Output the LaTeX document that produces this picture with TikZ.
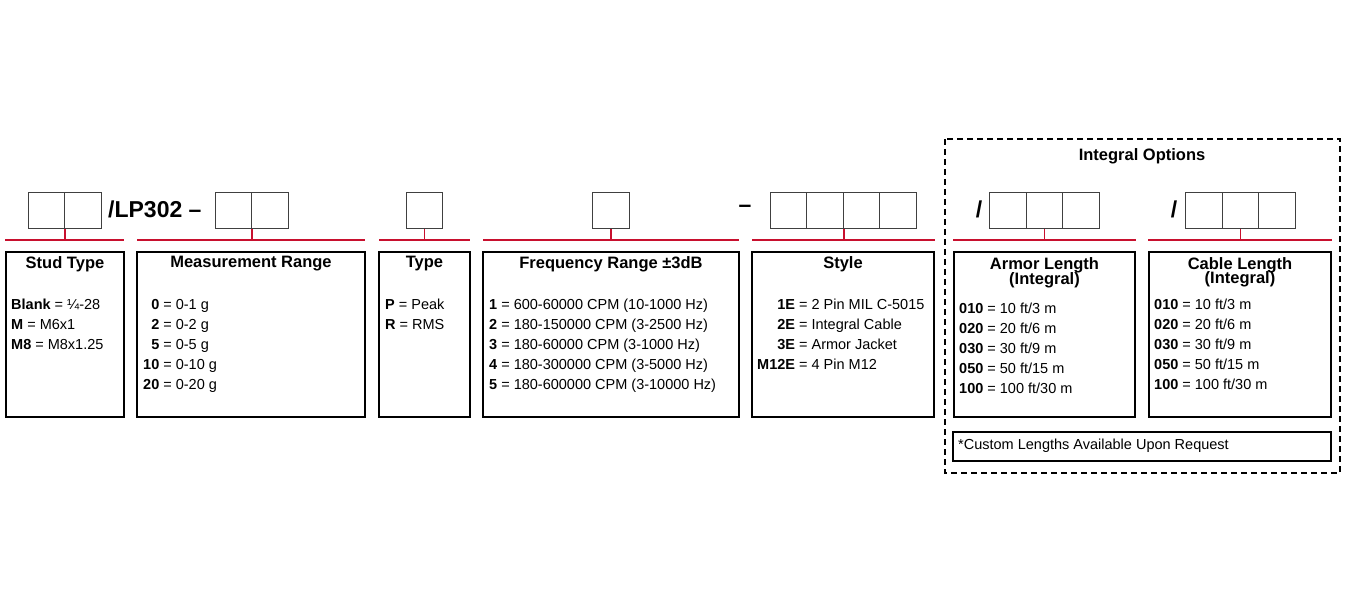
\documentclass[tikz,border=0pt]{standalone}
\usepackage{fontspec}
\setmainfont{Liberation Sans}
\usetikzlibrary{positioning}
\pgfdeclarelayer{edgelayer}
\pgfsetlayers{edgelayer,main}
\definecolor{codered}{RGB}{200,16,46}
\tikzstyle{cell}=[draw=black!75, line width=0.9pt, minimum width=36.5pt, minimum height=36pt, inner sep=0pt]
\tikzstyle{panel}=[draw=black, line width=1.6pt]
\tikzstyle{bar}=[draw=codered, line width=1.8pt]
\tikzstyle{title}=[font=\fontsize{16.5}{18}\selectfont\bfseries, align=center]
\tikzstyle{entries}=[font=\fontsize{14.5}{20.2}\selectfont, inner sep=0pt, anchor=base west]
\tikzstyle{code}=[font=\fontsize{23}{24}\selectfont\bfseries, inner sep=0pt]

\begin{document}
\begin{tikzpicture}[x=1pt, y=-1pt]
    \useasboundingbox (0,0) rectangle (1346,612);
    % code cells
    \foreach \name/\x in {s1/46.5, s2/83, m1/233.5, m2/270, t1/424.5, f1/611, y1/788.5, y2/825, y3/861.5, y4/898, a1/1008, a2/1044.5, a3/1081, c1/1204, c2/1240.5, c3/1277}
        \node [style=cell] (\name) at (\x, 210) {};
    \node [style=code, anchor=west] (lp) at (108, 209) {/LP302 –};
    \node [style=code] (dash) at (745, 209) {–};
    \node [style=code] (sla) at (979, 209) {/};
    \node [style=code] (slc) at (1174, 209) {/};
    % stems
    \coordinate (js) at (s1.south east |- 0,240);
    \coordinate (jm) at (m1.south east |- 0,240);
    \coordinate (jt) at (t1.south |- 0,240);
    \coordinate (jf) at (f1.south |- 0,240);
    \coordinate (jy) at (y2.south east |- 0,240);
    \coordinate (ja) at (a2.south |- 0,240);
    \coordinate (jc) at (c2.south |- 0,240);
    \begin{pgfonlayer}{edgelayer}
        \draw [style=bar] (5,240) -- (124,240);
        \draw [style=bar] (137,240) -- (365,240);
        \draw [style=bar] (379,240) -- (470,240);
        \draw [style=bar] (483,240) -- (739,240);
        \draw [style=bar] (752,240) -- (935,240);
        \draw [style=bar] (953,240) -- (1136,240);
        \draw [style=bar] (1148,240) -- (1332,240);
        \draw [style=bar] (s1.south east) -- (js);
        \draw [style=bar] (m1.south east) -- (jm);
        \draw [style=bar] (t1.south) -- (jt);
        \draw [style=bar] (f1.south) -- (jf);
        \draw [style=bar] (y2.south east) -- (jy);
        \draw [style=bar] (a2.south) -- (ja);
        \draw [style=bar] (c2.south) -- (jc);
    \end{pgfonlayer}
    % panels
    \draw [style=panel] (6,252) rectangle (124,417);
    \draw [style=panel] (137,252) rectangle (365,417);
    \draw [style=panel] (379,252) rectangle (470,417);
    \draw [style=panel] (483,252) rectangle (739,417);
    \draw [style=panel] (752,252) rectangle (934,417);
    \draw [style=panel] (954,252) rectangle (1135,417);
    \draw [style=panel] (1149,252) rectangle (1331,417);
    \draw [style=panel] (953,432) rectangle (1331,461);
    \draw [line width=1.4pt, dash pattern=on 6pt off 4pt] (945,139) rectangle (1340,473);
    % titles
    \node [style=title] (ttl-s) at (65,264) {Stud Type};
    \node [style=title] (ttl-m) at (251,264) {Measurement Range};
    \node [style=title] (ttl-t) at (424.5,264) {Type};
    \node [style=title] (ttl-f) at (611,264) {Frequency Range ±3dB};
    \node [style=title] (ttl-y) at (843,264) {Style};
    \node [style=title] (ttl-a) at (1044.5,273) {Armor Length\\[-3pt](Integral)};
    \node [style=title] (ttl-c) at (1240,272) {Cable Length\\[-4pt](Integral)};
    \node [style=title] (ttl-io) at (1142,156) {Integral Options};
    % entries
    \node [style=entries] (ent-s) at (11,309) {\begin{tabular}[t]{@{}l@{}}
        \textbf{Blank} = ¼-28\\ \textbf{M} = M6x1\\ \textbf{M8} = M8x1.25\end{tabular}};
    \node [style=entries] (ent-m) at (143,309) {\begin{tabular}[t]{@{}r@{ }l@{}}
        \textbf{0} & = 0-1 g\\ \textbf{2} & = 0-2 g\\ \textbf{5} & = 0-5 g\\
        \textbf{10} & = 0-10 g\\ \textbf{20} & = 0-20 g\end{tabular}};
    \node [style=entries] (ent-t) at (385,309) {\begin{tabular}[t]{@{}l@{}}
        \textbf{P} = Peak\\ \textbf{R} = RMS\end{tabular}};
    \node [style=entries] (ent-f) at (489,309) {\begin{tabular}[t]{@{}l@{}}
        \textbf{1} = 600-60000 CPM (10-1000 Hz)\\ \textbf{2} = 180-150000 CPM (3-2500 Hz)\\
        \textbf{3} = 180-60000 CPM (3-1000 Hz)\\ \textbf{4} = 180-300000 CPM (3-5000 Hz)\\
        \textbf{5} = 180-600000 CPM (3-10000 Hz)\end{tabular}};
    \node [style=entries] (ent-y) at (757,309) {\begin{tabular}[t]{@{}r@{ }l@{}}
        \textbf{1E} & = 2 Pin MIL C-5015\\ \textbf{2E} & = Integral Cable\\
        \textbf{3E} & = Armor Jacket\\ \textbf{M12E} & = 4 Pin M12\end{tabular}};
    \node [style=entries] (ent-a) at (959,313) {\begin{tabular}[t]{@{}l@{}}
        \textbf{010} = 10 ft/3 m\\ \textbf{020} = 20 ft/6 m\\ \textbf{030} = 30 ft/9 m\\
        \textbf{050} = 50 ft/15 m\\ \textbf{100} = 100 ft/30 m\end{tabular}};
    \node [style=entries] (ent-c) at (1154,309) {\begin{tabular}[t]{@{}l@{}}
        \textbf{010} = 10 ft/3 m\\ \textbf{020} = 20 ft/6 m\\ \textbf{030} = 30 ft/9 m\\
        \textbf{050} = 50 ft/15 m\\ \textbf{100} = 100 ft/30 m\end{tabular}};
    \node [style=entries] (note) at (958,449) {*Custom Lengths Available Upon Request};
\end{tikzpicture}
\end{document}
